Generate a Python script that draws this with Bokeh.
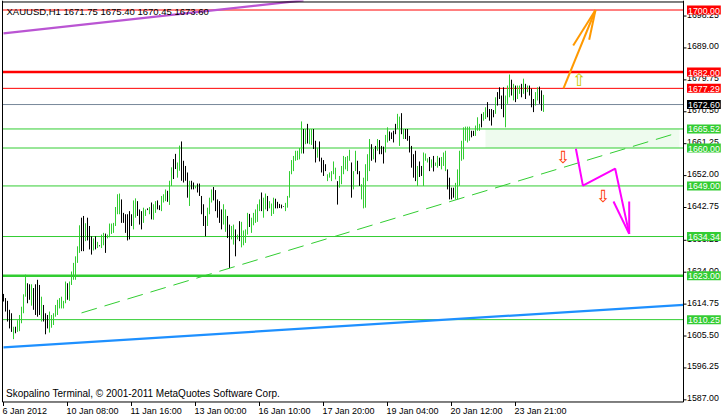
from bokeh.plotting import figure
from bokeh.models import Range1d, Label
from bokeh.embed import file_html
from bokeh.resources import INLINE

# ---------------- data ----------------
# hourly bars: high, low, up(1 = green / 0 = black)
highs = [1617.7, 1616.5, 1615.7, 1613.1, 1612.1, 1608.2, 1608.2, 1610.1, 1611.6, 1614.0,
         1617.6, 1623.3, 1620.8, 1620.5, 1620.5, 1619.4, 1620.5, 1621.8, 1620.3, 1616.9,
         1614.5, 1612.1, 1611.6, 1612.6, 1611.6, 1612.1, 1614.5, 1616.0, 1616.5, 1616.9,
         1615.7, 1621.3, 1620.8, 1621.3, 1624.2, 1626.7, 1628.6, 1631.5, 1637.6, 1639.8,
         1640.3, 1638.2, 1639.8, 1637.4, 1634.4, 1633.8, 1634.4, 1632.8, 1631.8, 1634.9,
         1635.4, 1635.2, 1634.9, 1638.1, 1638.1, 1638.3, 1642.9, 1646.6, 1646.8, 1645.1,
         1641.2, 1640.8, 1640.8, 1641.7, 1640.8, 1644.8, 1645.4, 1644.6,
         1642.2, 1641.7, 1642.7, 1642.2, 1642.5, 1642.9, 1644.2, 1643.7, 1644.6, 1644.8,
         1643.4, 1646.1, 1646.6, 1648.0, 1647.6, 1650.5, 1654.4, 1656.8, 1658.3, 1655.8,
         1660.7, 1661.9, 1656.3, 1654.8, 1652.9, 1650.5, 1650.5, 1650.0, 1649.0, 1649.7,
         1649.7, 1646.1, 1643.7, 1640.3, 1642.7, 1645.6, 1648.0, 1648.7, 1647.8, 1645.1,
         1644.6, 1642.2, 1643.7, 1642.2, 1640.3, 1637.8, 1637.4, 1637.8, 1636.4, 1634.9,
         1638.8, 1638.6, 1636.1, 1636.4, 1641.2, 1640.9, 1639.8, 1641.2, 1642.2, 1643.7,
         1645.1, 1647.1, 1645.6, 1646.8, 1646.1, 1644.6, 1643.9, 1645.6, 1645.3,
         1644.4, 1643.8, 1643.6, 1643.1, 1644.1, 1646.1, 1653.3, 1656.5, 1657.7, 1659.2,
         1659.2, 1660.0, 1667.7, 1665.5, 1665.5, 1667.0, 1665.5, 1665.5, 1665.5, 1662.1,
         1660.1, 1661.9, 1657.2, 1656.5, 1655.3, 1652.4, 1652.9, 1653.3, 1656.1, 1654.3,
         1650.4, 1651.9, 1654.8, 1657.7, 1657.4, 1657.7, 1659.5, 1655.8, 1653.3, 1659.2,
         1656.3, 1653.3, 1649.5, 1651.4, 1655.3, 1658.2, 1662.6, 1661.1, 1659.7, 1660.6,
         1662.6, 1662.3, 1660.6, 1660.4, 1663.8, 1666.0, 1664.8, 1664.5, 1665.0, 1667.0,
         1669.9, 1669.1, 1670.1, 1665.5, 1665.5, 1665.5, 1663.5, 1660.6, 1658.2,
         1659.2, 1654.8, 1656.1, 1654.8, 1658.7, 1658.4, 1657.0, 1657.4, 1656.7, 1657.7,
         1655.8, 1657.7, 1657.2, 1657.4, 1658.7, 1659.2, 1653.8, 1651.4, 1648.5, 1648.5,
         1649.9, 1653.8, 1659.2, 1662.1, 1666.0, 1666.2, 1666.2, 1666.2, 1665.0, 1665.0,
         1666.5, 1668.9, 1667.0, 1669.9, 1670.4, 1671.8, 1673.3, 1671.3, 1671.3, 1671.0,
         1674.7, 1676.2, 1677.6, 1675.2, 1677.6, 1675.2, 1678.1, 1681.3, 1679.8, 1678.6,
         1678.1, 1678.1, 1678.1, 1678.6, 1680.1, 1678.6, 1678.1, 1678.1, 1677.2, 1674.2,
         1676.2, 1677.6, 1677.8, 1676.7, 1675.4]
lows = [1615.5, 1612.6, 1609.7, 1607.7, 1606.7, 1604.6, 1606.3, 1606.7, 1606.9, 1609.2,
        1612.1, 1616.9, 1615.0, 1616.0, 1614.3, 1613.1, 1611.6, 1611.1, 1611.6, 1609.7,
        1609.7, 1606.0, 1607.7, 1606.5, 1607.9, 1608.7, 1611.1, 1611.6, 1613.5, 1613.5,
        1613.5, 1615.0, 1616.0, 1615.7, 1620.3, 1621.8, 1621.8, 1626.7, 1629.6, 1630.1,
        1630.1, 1633.0, 1633.2, 1630.6, 1629.1, 1630.3, 1630.6, 1631.0, 1631.5, 1631.0,
        1631.8, 1629.6, 1633.8, 1634.1, 1635.1, 1635.4, 1637.4, 1640.8, 1640.8, 1638.3,
        1638.3, 1635.4, 1633.2, 1633.5, 1637.4, 1636.4, 1639.8, 1640.3,
        1637.8, 1636.4, 1638.3, 1640.3, 1642.0, 1640.8, 1639.3, 1639.2, 1641.2, 1642.2,
        1642.0, 1641.7, 1644.2, 1644.6, 1644.4, 1643.5, 1649.0, 1651.0, 1653.9, 1651.4,
        1653.4, 1650.5, 1650.0, 1650.5, 1645.6, 1643.2, 1648.0, 1648.0, 1648.3, 1647.1,
        1646.1, 1640.8, 1637.4, 1634.4, 1637.4, 1640.8, 1644.2, 1644.8, 1641.7, 1639.8,
        1638.3, 1636.4, 1637.8, 1635.7, 1633.9, 1625.2, 1633.5, 1632.0, 1628.6, 1633.5,
        1633.0, 1631.2, 1631.8, 1632.5, 1634.9, 1637.1, 1635.4, 1637.6, 1638.3, 1638.6,
        1641.7, 1641.7, 1639.8, 1642.2, 1641.7, 1642.5, 1640.3, 1640.9, 1642.5,
        1642.5, 1642.6, 1642.5, 1642.9, 1641.7, 1642.7, 1645.6, 1652.4, 1653.3, 1656.3,
        1656.5, 1656.7, 1658.4, 1658.4, 1661.1, 1661.3, 1661.1, 1660.9, 1659.7, 1655.8,
        1657.2, 1656.1, 1652.9, 1651.9, 1653.3, 1650.4, 1651.4, 1650.4, 1652.4, 1650.9,
        1643.6, 1648.5, 1649.5, 1652.4, 1653.8, 1653.3, 1656.3, 1645.6, 1648.0, 1653.3,
        1652.4, 1649.0, 1645.1, 1642.5, 1642.7, 1650.4, 1653.3, 1656.3, 1656.7, 1655.8,
        1659.2, 1658.2, 1658.2, 1655.5, 1658.7, 1661.6, 1662.1, 1662.6, 1661.6, 1664.0,
        1665.5, 1660.6, 1664.0, 1662.6, 1662.6, 1662.1, 1658.7, 1654.3, 1651.4,
        1650.4, 1649.0, 1651.6, 1651.9, 1649.0, 1656.3, 1655.8, 1653.3, 1654.3, 1653.2,
        1654.8, 1654.3, 1654.8, 1653.8, 1654.8, 1653.3, 1648.0, 1645.1, 1645.1, 1645.6,
        1645.1, 1645.1, 1649.0, 1656.3, 1656.7, 1662.1, 1661.6, 1662.1, 1663.1, 1663.5,
        1663.5, 1665.0, 1665.0, 1666.0, 1667.9, 1668.4, 1668.9, 1667.9, 1666.5, 1668.9,
        1669.9, 1672.3, 1674.2, 1671.3, 1668.9, 1666.0, 1672.8, 1674.7, 1675.2, 1673.8,
        1673.3, 1674.2, 1675.7, 1674.7, 1675.7, 1674.2, 1676.2, 1675.2, 1671.8, 1670.4,
        1672.3, 1673.8, 1672.8, 1670.8, 1670.45]
up = [0, 0, 0, 0, 0, 1, 0, 1, 1, 1,
      1, 1, 0, 0, 1, 0, 0, 0, 0, 1,
      0, 0, 0, 1, 1, 1, 1, 1, 1, 1,
      1, 1, 0, 1, 1, 1, 1, 1, 1, 0,
      0, 1, 0, 0, 0, 1, 0, 1, 0, 1,
      1, 0, 1, 1, 1, 1, 1, 1, 1, 0,
      0, 0, 0, 0, 0, 1, 1, 0,
      0, 0, 1, 1, 0, 1, 0, 1, 1, 0,
      0, 1, 1, 1, 0, 1, 1, 0, 0, 1,
      1, 0, 0, 0, 0, 1, 0, 0, 1, 0,
      0, 0, 0, 0, 1, 1, 1, 0, 0, 0,
      0, 0, 1, 1, 0, 0, 1, 1, 0, 1,
      0, 1, 1, 1, 1, 0, 1, 1, 1, 1,
      1, 0, 1, 1, 0, 1, 1, 1, 0,
      0, 0, 0, 0, 1, 1, 1, 1, 1, 1,
      1, 1, 1, 0, 1, 0, 1, 1, 0, 0,
      1, 0, 0, 0, 0, 1, 1, 1, 1, 1,
      0, 1, 1, 1, 1, 1, 1, 0, 1, 1,
      0, 0, 1, 1, 1, 1, 1, 0, 1, 0,
      1, 0, 0, 0, 1, 1, 0, 0, 0, 0,
      1, 1, 0, 1, 0, 0, 0, 0, 0,
      0, 1, 0, 0, 1, 1, 1, 0, 1, 0,
      1, 1, 0, 1, 1, 1, 0, 0, 0, 0,
      1, 1, 1, 1, 1, 1, 1, 1, 0, 0,
      1, 1, 1, 0, 1, 1, 0, 0, 0, 0,
      1, 0, 0, 0, 0, 1, 1, 1, 0, 1,
      0, 1, 1, 0, 1, 0, 1, 0, 0, 0,
      1, 1, 0, 0, 1]
bar_index = list(range(len(highs)))

last_bar_ohlc = [1671.75, 1675.40, 1670.45, 1673.60]
symbol = "XAUUSD,H1"
footer = "Skopalino Terminal, \u00a9 2001-2011 MetaQuotes Software Corp."

# horizontal price levels (value, kind)
level_values = [1700.00, 1682.00, 1677.29, 1672.60, 1665.52, 1660.00, 1649.00, 1634.34, 1623.00, 1610.25]
level_kinds = ["res", "res_major", "res", "bid", "sup", "sup", "sup", "sup", "sup_major", "sup"]

# zone between 1660 and 1665.52 (bar indices)
zone_bars = [241, 338]
zone_prices = [1660.00, 1665.52]

# trend lines (bar index, price)
purple_x = [0, 150]
purple_y = [1693.2, 1702.8]
blue_x = [0, 340]
blue_y = [1602.2, 1614.55]
dashed_x = [39, 336]
dashed_y = [1612.2, 1664.2]

# projected paths (bar index, price)
orange_x = [280, 296]
orange_y = [1677.29, 1700.0]
orange_head_x = [[296, 284.85], [296, 292.85]]
orange_head_y = [[1700.0, 1689.7], [1700.0, 1691.4]]
magenta_x = [286.2, 289.7, 305.85, 312.85]
magenta_y = [1659.8, 1649.1, 1654.0, 1635.1]
magenta_head_x = [[312.85, 305.0], [312.85, 312.85]]
magenta_head_y = [[1635.1, 1644.5], [1635.1, 1644.5]]

up_arrow = (287.85, 1679.6)
down_arrows_x = [279.85, 299.85]
down_arrows_y = [1657.3, 1646.2]

# price scale and time scale
price_ticks = [1587.00, 1596.25, 1605.50, 1614.75, 1624.00, 1633.25, 1642.75,
               1652.00, 1661.25, 1670.50, 1679.75, 1689.00, 1698.25]
time_tick_bars = [0, 32, 64, 96, 128, 160, 192, 224, 256]
time_tick_labels = ["6 Jan 2012", "10 Jan 08:00", "11 Jan 16:00", "13 Jan 00:00",
                    "16 Jan 10:00", "17 Jan 20:00", "19 Jan 04:00", "20 Jan 12:00",
                    "23 Jan 21:00"]

# ---------------- layout / styling ----------------
GREEN = "#32CD32"
BOX_GREEN = "#33CC33"
RED = "#FF0000"
GRAY = "#778899"
FONT = "Liberation Sans"

PX_PER_BAR = 2.0
PX_PER_USD = 3.45
W, H = 721, 418
# chart area (MetaTrader window) in data units
CH_LEFT, CH_RIGHT = -0.5, 340.0
CH_BOTTOM, CH_TOP = 1586.38, 1702.32

x_start = -1.5
x_end = x_start + W / PX_PER_BAR
y_top = 1702.754
y_bottom = y_top - H / PX_PER_USD

p = figure(width=W, height=H, x_range=Range1d(x_start, x_end), y_range=Range1d(y_bottom, y_top),
           output_backend="svg", toolbar_location=None,
           x_axis_location=None, y_axis_location=None,
           min_border_left=0, min_border_right=0, min_border_top=0, min_border_bottom=0)
p.grid.visible = False
p.outline_line_color = None
p.background_fill_color = "white"
p.border_fill_color = "white"

# zone
p.quad(left=[zone_bars[0]], right=[zone_bars[1]], bottom=[zone_prices[0]], top=[zone_prices[1]],
       fill_color="#EEFBEE", line_color=None)

# horizontal levels, bounded by the chart window
style = {"res": (RED, 1), "res_major": (RED, 2.5), "bid": (GRAY, 1),
         "sup": (GREEN, 1), "sup_major": (GREEN, 2.5)}
p.segment(x0=[CH_LEFT] * len(level_values), x1=[CH_RIGHT] * len(level_values),
          y0=level_values, y1=level_values,
          line_color=[style[k][0] for k in level_kinds],
          line_width=[style[k][1] for k in level_kinds])

# bars
bar_colors = [GREEN if u else "black" for u in up]
p.segment(x0=bar_index, x1=bar_index, y0=lows, y1=highs, line_color=bar_colors, line_width=1)

# trend lines
p.line(purple_x, purple_y, line_color="#BA55D3", line_width=2.2)
p.line(blue_x, blue_y, line_color="#1E90FF", line_width=2.2)
p.line(dashed_x, dashed_y, line_color=GREEN, line_width=1, line_dash="16 8")

# projections
p.line(orange_x, orange_y, line_color="#FF9900", line_width=2)
p.multi_line(orange_head_x, orange_head_y, line_color="#FF9900", line_width=2)
p.line(magenta_x, magenta_y, line_color="#FF00FF", line_width=2)
p.multi_line(magenta_head_x, magenta_head_y, line_color="#FF00FF", line_width=2)

p.add_layout(Label(x=up_arrow[0], y=up_arrow[1], text="\u21e7", text_font="DejaVu Sans",
                   text_font_size="17px", text_color="#C8C800", text_align="center",
                   text_baseline="middle"))
for ax, ay in zip(down_arrows_x, down_arrows_y):
    p.add_layout(Label(x=ax, y=ay, text="\u21e9", text_font="DejaVu Sans",
                       text_font_size="17px", text_color="#FF3300", text_align="center",
                       text_baseline="middle"))

# window frame, price scale line and time scale line
p.segment(x0=[CH_LEFT, CH_LEFT, CH_RIGHT, CH_LEFT],
          x1=[CH_LEFT, CH_RIGHT, CH_RIGHT, CH_RIGHT],
          y0=[CH_BOTTOM, CH_TOP, CH_BOTTOM, CH_BOTTOM],
          y1=[y_top, CH_TOP, y_top, CH_BOTTOM],
          line_color="black", line_width=1)
# price scale ticks (3 px) and time scale ticks (4 px)
p.segment(x0=[CH_RIGHT] * len(price_ticks), x1=[CH_RIGHT + 3 / PX_PER_BAR] * len(price_ticks),
          y0=price_ticks, y1=price_ticks, line_color="black", line_width=1)
p.segment(x0=time_tick_bars, x1=time_tick_bars,
          y0=[CH_BOTTOM] * len(time_tick_bars), y1=[CH_BOTTOM - 4 / PX_PER_USD] * len(time_tick_bars),
          line_color="black", line_width=1)

# texts
title = symbol + "  " + " ".join(f"{v:.2f}" for v in last_bar_ohlc)
p.add_layout(Label(x=CH_LEFT, y=CH_TOP, x_offset=4, y_offset=-9.5, text=title, text_font=FONT,
                   text_font_size="9.5px", text_color="black", text_baseline="middle"))
p.add_layout(Label(x=CH_LEFT, y=CH_BOTTOM, x_offset=3.5, y_offset=8.5, text=footer, text_font=FONT,
                   text_font_size="10px", text_color="black", text_baseline="middle"))

for b, t in zip(time_tick_bars, time_tick_labels):
    p.add_layout(Label(x=b, y=CH_BOTTOM, x_offset=-1, y_offset=-9.5, text=t, text_font=FONT,
                       text_font_size="9px", text_color="black", text_baseline="middle",
                       text_align="left"))

for v in price_ticks:
    p.add_layout(Label(x=CH_RIGHT, y=v, x_offset=3.5, y_offset=1.5, text=f"{v:.2f}", text_font=FONT,
                       text_font_size="8.8px", text_color="black", text_baseline="middle",
                       text_align="left"))

box_colors = {"res": RED, "res_major": RED, "bid": "black", "sup": BOX_GREEN, "sup_major": BOX_GREEN}
for v, k in zip(level_values, level_kinds):
    p.add_layout(Label(x=CH_RIGHT, y=v, x_offset=3.5, y_offset=0, text=f"{v:.2f}", text_font=FONT,
                       text_font_size="8.8px", text_color="white", text_baseline="middle",
                       text_align="left", background_fill_color=box_colors[k],
                       padding=dict(left=1, right=1, top=2, bottom=1)))

html = file_html(p, INLINE)
html = html.replace("</head>", "<style>html,body{margin:0;padding:0;overflow:hidden;}</style></head>", 1)
open("out.html", "w").write(html)
